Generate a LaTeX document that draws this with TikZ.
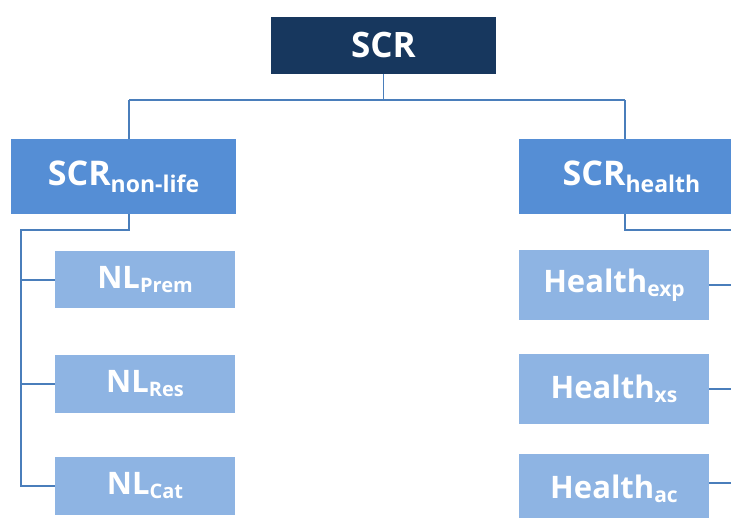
\documentclass[tikz,border=0pt]{standalone}
\usepackage{fontspec}
\setmainfont{Open Sans}
\definecolor{navy}{RGB}{23,55,94}
\definecolor{mid}{RGB}{85,142,213}
\definecolor{light}{RGB}{142,180,227}
\definecolor{wire}{RGB}{74,126,187}
\tikzstyle{risk tree}=[
    x=1pt, y=-1pt,
    box/.style={rectangle, inner sep=0pt, text=white},
    top box/.style={box, fill=navy, minimum width=225pt, minimum height=57pt,
        font={\fontsize{35}{35}\selectfont\bfseries}},
    module box/.style={box, fill=mid, minimum width=225pt, minimum height=75pt,
        font={\fontsize{34}{34}\selectfont\bfseries}},
    sub box/.style={box, fill=light, font={\fontsize{31}{31}\selectfont\bfseries}},
    link/.style={draw=wire, line width=1.6pt},
]
\newcommand{\lowtxt}[3][4pt]{\raisebox{-#1}{\fontsize{#2}{#2}\selectfont #3}}

\begin{document}
\begin{tikzpicture}[risk tree]
    \useasboundingbox (0,0) rectangle (731,518);

    \node[top box] (scr) at (383.5,45.5) {SCR};
    \node[module box] (nonlife) at (123.5,176.5) {SCR\lowtxt[7pt]{23}{non-life}};
    \node[module box] (health) at (631.5,176.5) {SCR\lowtxt[7pt]{23}{health}};

    \node[sub box, minimum width=180pt, minimum height=57pt] (nlprem) at (145,280) {NL\lowtxt{20}{Prem}};
    \node[sub box, minimum width=180pt, minimum height=58pt] (nlres) at (145,384) {NL\lowtxt{20}{Res}};
    \node[sub box, minimum width=180pt, minimum height=58pt] (nlcat) at (145,486) {NL\lowtxt{20}{Cat}};

    \node[sub box, minimum width=190pt, minimum height=70pt] (hexp) at (614,285) {Health\lowtxt{21}{exp}};
    \node[sub box, minimum width=190pt, minimum height=70pt] (hxs) at (614,389) {Health\lowtxt{21}{xs}};
    \node[sub box, minimum width=190pt, minimum height=70pt] (hac) at (614,489) {Health\lowtxt{21}{ac}};

    % bends of the connectors
    \coordinate (lbend) at (129,100);
    \coordinate (rbend) at (625,100);
    \coordinate (ltrunk) at (21,230);
    \coordinate (rtrunk) at (745,230);

    \draw[link] (scr.south) -- (scr.south |- lbend);
    \draw[link] (lbend) -- (rbend);
    \draw[link] (lbend) -- (lbend |- nonlife.north);
    \draw[link] (rbend) -- (rbend |- health.north);

    \draw[link] (lbend |- nonlife.south) |- (ltrunk) -- (ltrunk |- nlcat.west) -- (nlcat.west);
    \draw[link] (ltrunk |- nlprem.west) -- (nlprem.west);
    \draw[link] (ltrunk |- nlres.west) -- (nlres.west);

    \draw[link] (rbend |- health.south) |- (rtrunk) -- (rtrunk |- 0,483) -- (hac.east |- 0,483);
    \draw[link] (rtrunk |- hexp.east) -- (hexp.east);
    \draw[link] (rtrunk |- hxs.east) -- (hxs.east);
\end{tikzpicture}
\end{document}
